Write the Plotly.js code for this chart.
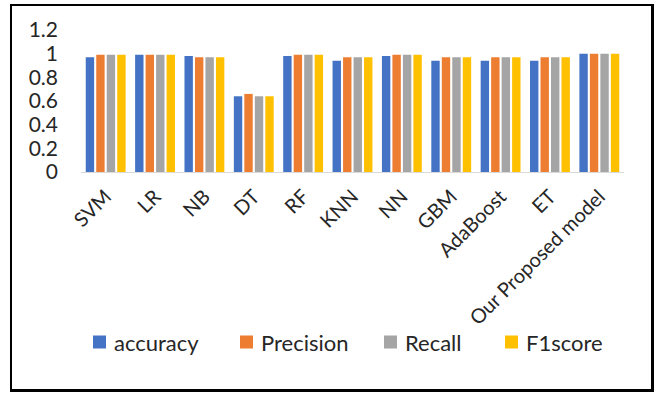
<!DOCTYPE html>
<html>
<head>
<meta charset="utf-8">
<script src="https://cdn.plot.ly/plotly-3.0.1.min.js"></script>
<style>
  html, body { margin: 0; padding: 0; background: #fff; }
  #wrap { position: relative; width: 667px; height: 401px; }
  #chart { position: absolute; left: 0; top: 0; width: 667px; height: 401px; }
  #frame {
    position: absolute; left: 10px; top: 4px; width: 639px; height: 383px;
    border: 2px solid #000; border-right-width: 3px; border-bottom-width: 3px;
    pointer-events: none;
  }
</style>
</head>
<body>
<div id="wrap">
  <div id="chart"></div>
  <div id="frame"></div>
</div>
<script>
// Models compared
const models = ["SVM", "LR", "NB", "DT", "RF", "KNN", "NN", "GBM", "AdaBoost", "ET", "Our Proposed model"];

// Scores per metric
const accuracy  = [0.97, 0.99, 0.98, 0.64, 0.98, 0.94, 0.98, 0.94, 0.94, 0.94, 1.00];
const precision = [0.99, 0.99, 0.97, 0.66, 0.99, 0.97, 0.99, 0.97, 0.97, 0.97, 1.00];
const recall    = [0.99, 0.99, 0.97, 0.64, 0.99, 0.97, 0.99, 0.97, 0.97, 0.97, 1.00];
const f1score   = [0.99, 0.99, 0.97, 0.64, 0.99, 0.97, 0.99, 0.97, 0.97, 0.97, 1.00];

const seriesNames = ["accuracy", "Precision", "Recall", "F1score"];
const yTicks = [0, 0.2, 0.4, 0.6, 0.8, 1, 1.2];

const colors = ["#4472C4", "#ED7D31", "#A5A5A5", "#FFC000"];
const values = [accuracy, precision, recall, f1score];

const font = "Lato, 'Open Sans', sans-serif";
const textColor = "#262626";

// Plot area in pixels
const margin = { l: 81, r: 43, t: 30, b: 229 };

// Legend row: left edge of each swatch (px from the plot's left edge), row offset below the x axis
const legendSwatchX = [12, 159, 303, 424];
const legendRowBelow = 170;
const swatch = 13;
const swatchGap = 6;

const traces = values.map((v, i) => ({
  type: "bar",
  name: seriesNames[i],
  x: models,
  y: v,
  marker: { color: colors[i] },
  hoverinfo: "x+y+name"
}));

// Hand-built legend: coloured squares and their labels
const shapes = seriesNames.map((n, i) => ({
  type: "rect",
  xref: "paper", yref: "paper",
  xsizemode: "pixel", ysizemode: "pixel",
  xanchor: 0, yanchor: 0,
  x0: legendSwatchX[i], x1: legendSwatchX[i] + swatch,
  y0: -legendRowBelow - swatch / 2, y1: -legendRowBelow + swatch / 2,
  fillcolor: colors[i],
  line: { width: 0 }
}));

const annotations = seriesNames.map((n, i) => ({
  text: n,
  xref: "paper", yref: "paper",
  x: 0, y: 0,
  xshift: legendSwatchX[i] + swatch + swatchGap,
  yshift: -legendRowBelow,
  xanchor: "left", yanchor: "middle",
  showarrow: false,
  font: { family: font, size: 22, color: textColor }
}));

const layout = {
  width: 667,
  height: 401,
  margin: margin,
  paper_bgcolor: "#fff",
  plot_bgcolor: "#fff",
  font: { family: font, color: textColor, size: 21 },
  barmode: "group",
  bargap: 0.15,
  bargroupgap: 0.2,
  showlegend: false,
  shapes: shapes,
  annotations: annotations,
  xaxis: {
    type: "category",
    tickangle: -45,
    showline: true,
    linecolor: "#D9D9D9",
    linewidth: 1,
    showgrid: false,
    ticks: "",
    ticklabelstandoff: 4,
    tickfont: { family: font, size: 20, color: textColor },
    fixedrange: true
  },
  yaxis: {
    range: [0, 1.2],
    tickvals: yTicks,
    ticktext: yTicks.map(String),
    showgrid: false,
    zeroline: false,
    showline: false,
    ticks: "",
    ticklabelstandoff: 22,
    tickfont: { family: font, size: 21, color: textColor },
    fixedrange: true
  }
};

Plotly.newPlot("chart", traces, layout, { displayModeBar: false, staticPlot: true });
</script>
</body>
</html>
